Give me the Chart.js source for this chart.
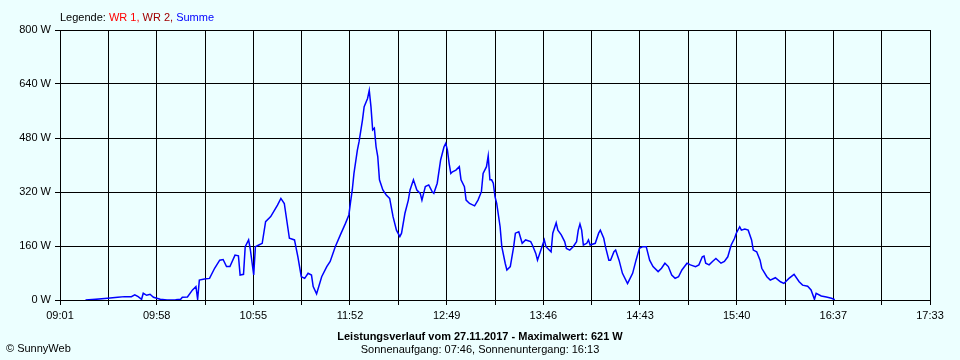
<!DOCTYPE html>
<html>
<head>
<meta charset="utf-8">
<script src="https://cdn.jsdelivr.net/npm/chart.js@4"></script>
<style>
    html, body { margin: 0; padding: 0; background: #ecffff; }
    #wrap { position: relative; width: 960px; height: 360px; }
</style>
</head>
<body>
<div id="wrap"><canvas id="chart" width="960" height="360"></canvas></div>
<script>
// --- data ---
const times = [
    '09:16','09:22','09:29','09:35','09:39','09:43','09:45','09:47','09:49','09:50',
    '09:52','09:54','09:56','09:58','10:00','10:04','10:09','10:12','10:13','10:16',
    '10:19','10:21','10:22','10:23','10:26','10:29','10:32','10:35','10:37','10:39',
    '10:41','10:44','10:46','10:47','10:49','10:50','10:52','10:53','10:55','10:56',
    '10:58','11:00','11:02','11:05','11:09','11:11','11:13','11:16','11:19','11:21',
    '11:23','11:25','11:27','11:29','11:30','11:32','11:35','11:38','11:40','11:43',
    '11:46','11:49','11:51','11:52','11:53','11:54','11:56','11:57','11:59','12:00',
    '12:02','12:03','12:04','12:05','12:06','12:07','12:08','12:09','12:11','12:13',
    '12:15','12:17','12:19','12:21','12:22','12:24','12:26','12:27','12:29','12:31',
    '12:33','12:34','12:36','12:38','12:40','12:41','12:43','12:45','12:47','12:48',
    '12:49','12:50','12:51','12:52','12:54','12:56','12:57','12:59','13:00','13:02',
    '13:05','13:07','13:09','13:10','13:12','13:13','13:14','13:15','13:16','13:17',
    '13:18','13:20','13:21','13:23','13:24','13:26','13:28','13:29','13:31','13:33',
    '13:35','13:38','13:39','13:41','13:42','13:44','13:46','13:47','13:50','13:51',
    '13:53','13:54','13:56','13:58','13:59','14:01','14:03','14:05','14:06','14:07',
    '14:08','14:09','14:11','14:12','14:13','14:16','14:18','14:19','14:21','14:22',
    '14:24','14:25','14:27','14:28','14:30','14:32','14:35','14:36','14:38','14:40',
    '14:42','14:44','14:46','14:48','14:50','14:53','14:55','14:57','14:59','15:01',
    '15:03','15:05','15:07','15:10','15:12','15:15','15:17','15:19','15:20','15:21',
    '15:23','15:25','15:27','15:30','15:32','15:34','15:36','15:38','15:39','15:41',
    '15:42','15:44','15:46','15:48','15:49','15:51','15:53','15:54','15:57','15:59',
    '16:02','16:05','16:07','16:10','16:13','16:16','16:18','16:21','16:23','16:25',
    '16:26','16:29','16:32','16:35','16:37'
];
const summe = [
    0, 2, 5, 8, 10, 10, 15, 10, 2, 20,
    14, 17, 8, 5, 2, 0, 1, 2, 8, 9,
    30, 40, 2, 59, 62, 64, 94, 118, 120, 99,
    99, 133, 131, 74, 76, 158, 178, 150, 74, 158,
    163, 168, 232, 247, 281, 301, 286, 183, 178, 128,
    69, 64, 79, 74, 40, 18, 69, 99, 114, 158,
    193, 227, 252, 291, 326, 375, 444, 469, 533, 573,
    597, 621, 573, 504, 509, 454, 425, 356, 326, 311,
    301, 247, 207, 188, 198, 257, 296, 326, 356, 326,
    316, 296, 336, 341, 321, 316, 346, 415, 454, 464,
    444, 405, 375, 380, 385, 395, 356, 336, 296, 286,
    279, 296, 321, 375, 395, 427, 356, 356, 346, 306,
    286, 217, 158, 109, 89, 99, 158, 198, 202, 168,
    178, 173, 163, 138, 118, 148, 178, 158, 143, 198,
    229, 207, 193, 173, 153, 148, 158, 173, 207, 225,
    207, 163, 168, 178, 163, 168, 198, 207, 183, 158,
    118, 118, 143, 148, 118, 79, 49, 59, 79, 118,
    153, 158, 158, 118, 99, 84, 94, 109, 99, 74,
    64, 69, 89, 109, 104, 99, 104, 128, 130, 109,
    104, 114, 123, 109, 114, 128, 163, 183, 198, 217,
    207, 210, 207, 178, 148, 143, 118, 94, 69, 59,
    66, 54, 49, 64, 76, 54, 44, 41, 30, 2,
    20, 12, 9, 5, 1
];
const xLabels = ['09:01','09:58','10:55','11:52','12:49','13:46','14:43','15:40','16:37','17:33'];
const yMax = 800;
const yStep = 160;

// --- helpers ---
function toMin(t) {
    const [h, m] = t.split(':').map(Number);
    return h * 60 + m;
}

const xStart = toMin(xLabels[0]);
const xEnd = toMin(xLabels[xLabels.length - 1]);
const gridCount = (xLabels.length - 1) * 2;

const points = times.map((t, i) => ({ x: toMin(t), y: summe[i] }));

// texts around the plot
const textPlugin = {
    id: 'texts',
    afterDraw(chart) {
        const ctx = chart.ctx;
        ctx.save();
        ctx.textBaseline = 'alphabetic';
        ctx.font = "11px 'Liberation Sans', Arial, sans-serif";
        let x = 60;
        const parts = [['Legende: ', '#000000'], ['WR 1, ', '#ff0000'], ['WR 2, ', '#a00000'], ['Summe', '#0000ff']];
        parts.forEach(([txt, col]) => {
            ctx.fillStyle = col;
            ctx.fillText(txt, x, 21);
            x += ctx.measureText(txt).width;
        });

        ctx.fillStyle = '#000000';
        ctx.textAlign = 'center';
        ctx.font = "bold 11px 'Liberation Sans', Arial, sans-serif";
        ctx.fillText('Leistungsverlauf vom 27.11.2017 - Maximalwert: 621 W', 480, 340);
        ctx.font = "11px 'Liberation Sans', Arial, sans-serif";
        ctx.fillText('Sonnenaufgang: 07:46, Sonnenuntergang: 16:13', 480, 353);

        ctx.textAlign = 'left';
        ctx.fillText('\u00a9 SunnyWeb', 6, 352);
        ctx.restore();
    }
};

new Chart(document.getElementById('chart'), {
    type: 'line',
    data: {
        datasets: [{
            label: 'Summe',
            data: points,
            borderColor: '#0000ff',
            borderWidth: 1.5,
            pointRadius: 0,
            tension: 0,
            fill: false
        }]
    },
    options: {
        responsive: false,
        animation: false,
        layout: { padding: { top: 30, right: 30, left: 0, bottom: 0 } },
        plugins: {
            legend: { display: false },
            tooltip: { enabled: false }
        },
        scales: {
            x: {
                type: 'linear',
                min: xStart,
                max: xEnd,
                afterBuildTicks(scale) {
                    const ticks = [];
                    for (let i = 0; i <= gridCount; i++) {
                        ticks.push({ value: xStart + (xEnd - xStart) * i / gridCount });
                    }
                    scale.ticks = ticks;
                },
                afterFit(scale) { scale.height = 60; },
                ticks: {
                    autoSkip: false,
                    maxRotation: 0,
                    padding: 4,
                    color: '#000000',
                    font: { family: "'Liberation Sans', Arial, sans-serif", size: 11 },
                    callback: (v, i) => (i % 2 === 0 ? xLabels[i / 2] : '')
                },
                grid: { color: '#000000', lineWidth: 1, tickLength: 5, tickColor: '#000000' },
                border: { color: '#000000', width: 1 }
            },
            y: {
                min: 0,
                max: yMax,
                afterFit(scale) { scale.width = 60; },
                ticks: {
                    stepSize: yStep,
                    padding: 4,
                    color: '#000000',
                    font: { family: "'Liberation Sans', Arial, sans-serif", size: 11 },
                    callback: v => v + ' W'
                },
                grid: { color: '#000000', lineWidth: 1, tickLength: 5, tickColor: '#000000' },
                border: { color: '#000000', width: 1 }
            }
        }
    },
    plugins: [textPlugin]
});
</script>
</body>
</html>
